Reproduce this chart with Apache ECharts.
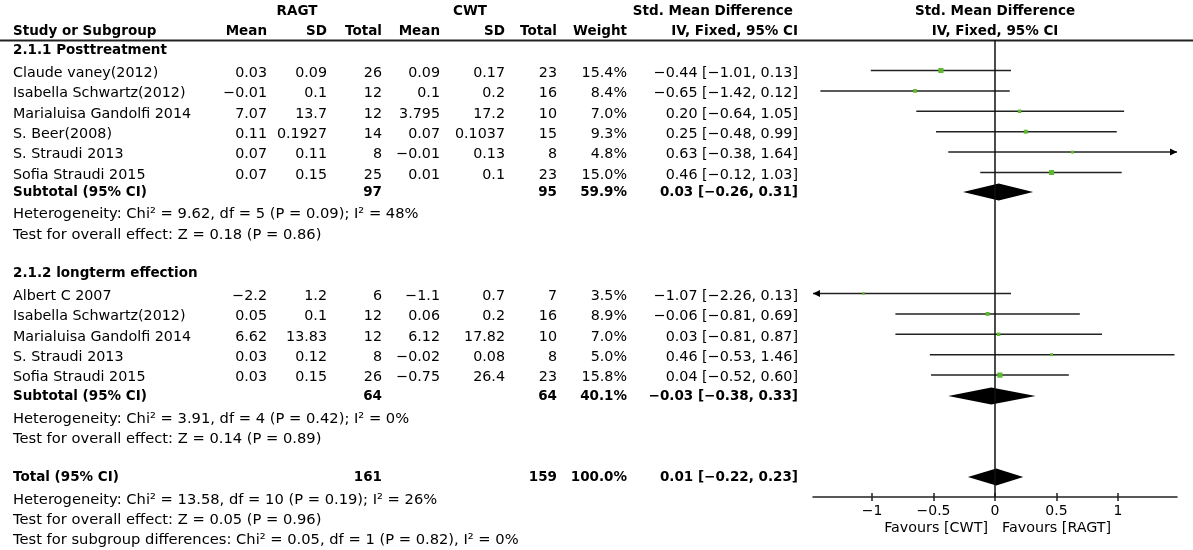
<!DOCTYPE html>
<html>
<head>
<meta charset="utf-8">
<script src="https://cdn.jsdelivr.net/npm/echarts@6/dist/echarts.min.js"></script>
<style>
html, body { margin: 0; padding: 0; background: #fff; }
#chart { width: 1193px; height: 550px; }
</style>
</head>
<body>
<div id="chart"></div>
<script>
// ---- data ----
var studyNames = ['Claude vaney(2012)', 'Isabella Schwartz(2012)', 'Marialuisa Gandolfi 2014', 'S. Beer(2008)', 'S. Straudi 2013', 'Sofia Straudi 2015',
    'Albert C 2007', 'Isabella Schwartz(2012)', 'Marialuisa Gandolfi 2014', 'S. Straudi 2013', 'Sofia Straudi 2015'];
var subgroupOf = [0, 0, 0, 0, 0, 0, 1, 1, 1, 1, 1];
var ragtMean = [0.03, -0.01, 7.07, 0.11, 0.07, 0.07, -2.2, 0.05, 6.62, 0.03, 0.03];
var ragtSD = [0.09, 0.1, 13.7, 0.1927, 0.11, 0.15, 1.2, 0.1, 13.83, 0.12, 0.15];
var ragtTotal = [26, 12, 12, 14, 8, 25, 6, 12, 12, 8, 26];
var cwtMean = [0.09, 0.1, 3.795, 0.07, -0.01, 0.01, -1.1, 0.06, 6.12, -0.02, -0.75];
var cwtSD = [0.17, 0.2, 17.2, 0.1037, 0.13, 0.1, 0.7, 0.2, 17.82, 0.08, 26.4];
var cwtTotal = [23, 16, 10, 15, 8, 23, 7, 16, 10, 8, 23];
var weight = [15.4, 8.4, 7.0, 9.3, 4.8, 15.0, 3.5, 8.9, 7.0, 5.0, 15.8];
var smd = [-0.44, -0.65, 0.20, 0.25, 0.63, 0.46, -1.07, -0.06, 0.03, 0.46, 0.04];
var smdLow = [-1.01, -1.42, -0.64, -0.48, -0.38, -0.12, -2.26, -0.81, -0.81, -0.53, -0.52];
var smdHigh = [0.13, 0.12, 1.05, 0.99, 1.64, 1.03, 0.13, 0.69, 0.87, 1.46, 0.60];

var subgroupNames = ['2.1.1 Posttreatment', '2.1.2 longterm effection'];
var subRagtTotal = [97, 64];
var subCwtTotal = [95, 64];
var subWeight = [59.9, 40.1];
var subSmd = [0.03, -0.03];
var subLow = [-0.26, -0.38];
var subHigh = [0.31, 0.33];
var subHetero = ['Heterogeneity: Chi\u00b2 = 9.62, df = 5 (P = 0.09); I\u00b2 = 48%',
    'Heterogeneity: Chi\u00b2 = 3.91, df = 4 (P = 0.42); I\u00b2 = 0%'];
var subEffect = ['Test for overall effect: Z = 0.18 (P = 0.86)', 'Test for overall effect: Z = 0.14 (P = 0.89)'];

var totalRagt = 161, totalCwt = 159, totalWeight = 100.0;
var totalSmd = 0.01, totalLow = -0.22, totalHigh = 0.23;
var totalNotes = ['Heterogeneity: Chi\u00b2 = 13.58, df = 10 (P = 0.19); I\u00b2 = 26%',
    'Test for overall effect: Z = 0.05 (P = 0.96)',
    'Test for subgroup differences: Chi\u00b2 = 0.05, df = 1 (P = 0.82), I\u00b2 = 0%'];

var xTicks = [-1, -0.5, 0, 0.5, 1];
var favours = ['Favours [CWT]', 'Favours [RAGT]'];

// ---- layout ----
var FONT = '"DejaVu Sans", sans-serif';
var X_MIN = -1.48, X_MAX = 1.48;
var headY = [11, 31];
var subHeadY = [50, 273];
var firstStudyY = [73, 296];
var rowStep = 20.4;
var subtotalY = [192, 396];
var heteroY = [214, 419];
var effectY = [235, 439];
var totalY = 477;
var totalNoteY = [500, 520, 540];
var markShift = -2.5;   // CI lines sit slightly above the text middle
var col = { name: 13, rMean: 267, rSD: 327, rTot: 382, cMean: 440, cSD: 505, cTot: 557, wt: 627, ci: 798 };
var SIZE = { normal: 14.3, note: 14.7, bold: 13.5 };

function num(v) { return String(v).replace('-', '\u2212'); }
function f2(v) { return v.toFixed(2).replace('-', '\u2212'); }
function ciText(m, l, h) { return f2(m) + ' [' + f2(l) + ', ' + f2(h) + ']'; }

var cells = [];
function cell(x, y, text, align, kind) { cells.push({ x: x, y: y, text: text, align: align, kind: kind || 'normal' }); }

// header
cell(297, headY[0], 'RAGT', 'center', 'bold');
cell(470, headY[0], 'CWT', 'center', 'bold');
cell(793, headY[0], 'Std. Mean Difference', 'right', 'bold');
cell(995, headY[0], 'Std. Mean Difference', 'center', 'bold');
cell(col.name, headY[1], 'Study or Subgroup', 'left', 'bold');
cell(col.rMean, headY[1], 'Mean', 'right', 'bold');
cell(col.rSD, headY[1], 'SD', 'right', 'bold');
cell(col.rTot, headY[1], 'Total', 'right', 'bold');
cell(col.cMean, headY[1], 'Mean', 'right', 'bold');
cell(col.cSD, headY[1], 'SD', 'right', 'bold');
cell(col.cTot, headY[1], 'Total', 'right', 'bold');
cell(col.wt, headY[1], 'Weight', 'right', 'bold');
cell(col.ci, headY[1], 'IV, Fixed, 95% CI', 'right', 'bold');
cell(995, headY[1], 'IV, Fixed, 95% CI', 'center', 'bold');

var studyY = [];
var countIn = [0, 0];
studyNames.forEach(function (n, i) {
    var g = subgroupOf[i];
    var y = firstStudyY[g] + rowStep * countIn[g];
    countIn[g]++;
    studyY.push(y);
    cell(col.name, y, n, 'left');
    cell(col.rMean, y, num(ragtMean[i]), 'right');
    cell(col.rSD, y, num(ragtSD[i]), 'right');
    cell(col.rTot, y, String(ragtTotal[i]), 'right');
    cell(col.cMean, y, num(cwtMean[i]), 'right');
    cell(col.cSD, y, num(cwtSD[i]), 'right');
    cell(col.cTot, y, String(cwtTotal[i]), 'right');
    cell(col.wt, y, weight[i].toFixed(1) + '%', 'right');
    cell(col.ci, y, ciText(smd[i], smdLow[i], smdHigh[i]), 'right');
});

subgroupNames.forEach(function (n, g) {
    cell(col.name, subHeadY[g], n, 'left', 'bold');
    cell(col.name, subtotalY[g], 'Subtotal (95% CI)', 'left', 'bold');
    cell(col.rTot, subtotalY[g], String(subRagtTotal[g]), 'right', 'bold');
    cell(col.cTot, subtotalY[g], String(subCwtTotal[g]), 'right', 'bold');
    cell(col.wt, subtotalY[g], subWeight[g].toFixed(1) + '%', 'right', 'bold');
    cell(col.ci, subtotalY[g], ciText(subSmd[g], subLow[g], subHigh[g]), 'right', 'bold');
    cell(col.name, heteroY[g], subHetero[g], 'left', 'note');
    cell(col.name, effectY[g], subEffect[g], 'left', 'note');
});

cell(col.name, totalY, 'Total (95% CI)', 'left', 'bold');
cell(col.rTot, totalY, String(totalRagt), 'right', 'bold');
cell(col.cTot, totalY, String(totalCwt), 'right', 'bold');
cell(col.wt, totalY, totalWeight.toFixed(1) + '%', 'right', 'bold');
cell(col.ci, totalY, ciText(totalSmd, totalLow, totalHigh), 'right', 'bold');
totalNotes.forEach(function (t, k) { cell(col.name, totalNoteY[k], t, 'left', 'note'); });
cell(988, 528, favours[0], 'right');
cell(1002, 528, favours[1], 'left');

var diamonds = [
    [subSmd[0], subLow[0], subHigh[0], subtotalY[0]],
    [subSmd[1], subLow[1], subHigh[1], subtotalY[1]],
    [totalSmd, totalLow, totalHigh, totalY]
];

var chart = echarts.init(document.getElementById('chart'), null, { renderer: 'canvas' });

chart.setOption({
    animation: false,
    backgroundColor: '#fff',
    grid: { left: 813, right: 16, top: 40, bottom: 53 },
    xAxis: [{
        type: 'value', min: X_MIN, max: X_MAX, position: 'bottom',
        splitLine: { show: false },
        axisLine: { lineStyle: { color: '#222', width: 1.5 } },
        axisTick: { customValues: xTicks, length: 4, lineStyle: { color: '#222', width: 1.5 } },
        axisLabel: { customValues: xTicks, formatter: num, color: '#000', fontSize: 14, fontFamily: FONT, margin: 7 }
    }, {
        type: 'value', min: X_MIN, max: X_MAX, position: 'bottom',
        splitLine: { show: false },
        axisLine: { show: false },
        axisTick: { customValues: xTicks, inside: true, length: 4, lineStyle: { color: '#222', width: 1.5 } },
        axisLabel: { show: false }
    }],
    yAxis: { type: 'value', inverse: true, min: 40, max: 497, show: false },
    graphic: [{
        type: 'line', silent: true,
        shape: { x1: 0, y1: 40.5, x2: 1193, y2: 40.5 },
        style: { stroke: '#222', lineWidth: 2 }
    }],
    series: [{
        // table text
        type: 'custom', clip: false, silent: true,
        data: cells.map(function (c, i) { return [0, c.y, i]; }),
        renderItem: function (params, api) {
            var c = cells[api.value(2)];
            var y = api.coord([0, api.value(1)])[1];
            return {
                type: 'text',
                style: {
                    x: c.x, y: y, text: c.text, align: c.align, verticalAlign: 'middle',
                    fontSize: SIZE[c.kind], fontFamily: FONT,
                    fontWeight: c.kind === 'bold' ? 'bold' : 'normal', fill: '#000'
                }
            };
        }
    }, {
        // study CIs and weighted squares
        type: 'custom', clip: false, silent: true,
        encode: { x: [0, 1, 2], y: 4 },
        data: studyNames.map(function (n, i) {
            return [smd[i], smdLow[i], smdHigh[i], weight[i], studyY[i] + markShift];
        }),
        renderItem: function (params, api) {
            var y = api.value(4);
            var lo = Math.max(api.value(1), X_MIN);
            var hi = Math.min(api.value(2), X_MAX);
            var p0 = api.coord([lo, y]), p1 = api.coord([hi, y]), pm = api.coord([api.value(0), y]);
            var kids = [{
                type: 'line',
                shape: { x1: p0[0], y1: p0[1], x2: p1[0], y2: p1[1] },
                style: { stroke: '#222', lineWidth: 1.5 }
            }];
            if (api.value(1) < X_MIN) {
                kids.push({ type: 'polygon', shape: { points: [[p0[0], p0[1]], [p0[0] + 7, p0[1] - 3.5], [p0[0] + 7, p0[1] + 3.5]] }, style: { fill: '#000' } });
            }
            if (api.value(2) > X_MAX) {
                kids.push({ type: 'polygon', shape: { points: [[p1[0], p1[1]], [p1[0] - 7, p1[1] - 3.5], [p1[0] - 7, p1[1] + 3.5]] }, style: { fill: '#000' } });
            }
            var s = 1.3 * Math.sqrt(api.value(3));
            kids.push({ type: 'rect', shape: { x: pm[0] - s / 2, y: pm[1] - s / 2, width: s, height: s }, style: { fill: '#5cb82e' } });
            return { type: 'group', children: kids };
        }
    }, {
        // pooled diamonds
        type: 'custom', clip: false, silent: true,
        encode: { x: [0, 1, 2], y: 3 },
        data: diamonds,
        renderItem: function (params, api) {
            var y = api.value(3);
            var pl = api.coord([api.value(1), y]), pr = api.coord([api.value(2), y]), pm = api.coord([api.value(0), y]);
            return {
                type: 'polygon',
                shape: { points: [[pl[0], pl[1]], [pm[0], pm[1] - 8.5], [pr[0], pr[1]], [pm[0], pm[1] + 8.5]] },
                style: { fill: '#000' }
            };
        },
        markLine: {
            silent: true, symbol: 'none', label: { show: false },
            lineStyle: { color: '#111', width: 1.5, type: 'solid' },
            data: [{ xAxis: 0 }]
        }
    }]
});
</script>
</body>
</html>
